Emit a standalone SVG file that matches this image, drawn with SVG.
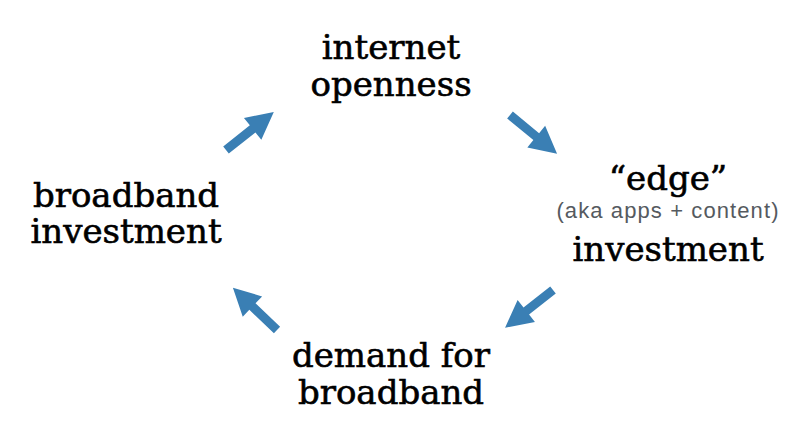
<svg xmlns="http://www.w3.org/2000/svg" width="808" height="441" viewBox="0 0 808 441">
<defs>
<style>
.t{font-family:"DejaVu Serif","Liberation Serif",serif;font-size:34px;fill:#000;stroke:#000;stroke-width:0.6px;text-anchor:middle}
.s{font-family:"Liberation Sans",Arial,sans-serif;font-size:22px;fill:#555a60;text-anchor:middle;letter-spacing:1.1px}
.a{fill:#3a7fb4}
</style>
<polygon id="arr" points="0,-4.5 34,-4.5 34,-14 61,0 34,14 34,4.5 0,4.5"/>
</defs>
<rect width="808" height="441" fill="#fff"/>
<g id="node-openness">
<text class="t" x="391" y="59">internet</text>
<text class="t" x="391" y="96">openness</text>
</g>
<g id="node-edge">
<text class="t" x="668" y="190">“edge”</text>
<text class="s" x="668" y="218">(aka apps + content)</text>
<text class="t" x="668" y="261">investment</text>
</g>
<g id="node-demand">
<text class="t" x="391" y="367">demand for</text>
<text class="t" x="391" y="404">broadband</text>
</g>
<g id="node-broadband">
<text class="t" x="126" y="207">broadband</text>
<text class="t" x="126" y="243">investment</text>
</g>
<g id="connectors" class="a">
<use href="#arr" transform="translate(226,150) rotate(-38.4)"/>
<use href="#arr" transform="translate(510,115) rotate(39.5)"/>
<use href="#arr" transform="translate(553,290) rotate(141.8)"/>
<use href="#arr" transform="translate(277,330) rotate(-136.3)"/>
</g>
</svg>
